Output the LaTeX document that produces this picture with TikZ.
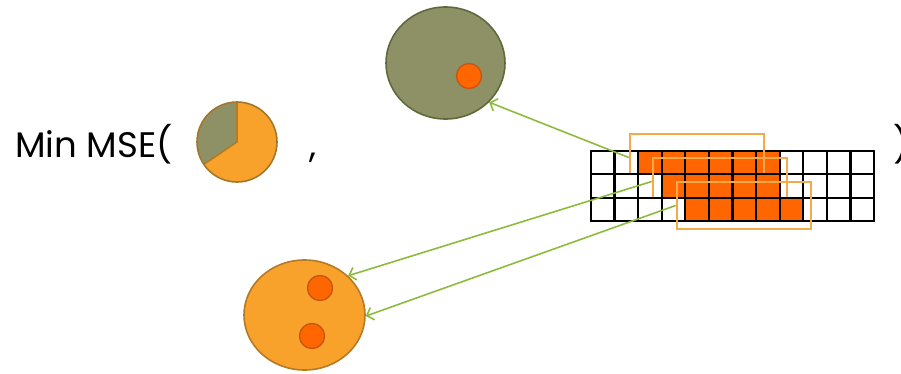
\documentclass[tikz,border=0pt]{standalone}
\usepackage{fontspec}
\setmainfont{Poppins}
\usetikzlibrary{shapes.geometric,arrows.meta}
\definecolor{olivefill}{HTML}{8E9166}
\definecolor{olivedraw}{HTML}{5F6A3C}
\definecolor{pumpkin}{HTML}{F8A22C}
\definecolor{pumpkindraw}{HTML}{B47A24}
\definecolor{hot}{HTML}{FF6600}
\definecolor{hotdraw}{HTML}{C75710}
\definecolor{frame}{HTML}{F4AA4A}
\definecolor{link}{HTML}{8DBB3C}
\tikzset{
  blob/.style={ellipse, inner sep=0pt, line width=1.6pt},
  dot/.style={circle, inner sep=0pt, minimum size=25pt, fill=hot, draw=hotdraw, line width=1.4pt},
  window/.style={rectangle, draw=frame, line width=2.6pt, minimum width=134pt, minimum height=47pt, inner sep=0pt},
  cell/.style={draw=black, line width=2.2pt},
  link/.style={draw=link, line width=1.6pt, -{Straight Barb[length=6pt,width=13pt,line width=1.6pt]}},
  label/.style={font=\fontsize{35.5}{40}\selectfont, inner sep=0pt, anchor=base west}
}
\begin{document}
\begin{tikzpicture}[x=1pt,y=1pt]
\useasboundingbox (0,0) rectangle (901,373);
\clip (0,0) rectangle (901,373);

% formula text
\node[label] (minmse) at (15,216) {Min MSE(};
\node[label] (comma) at (309,216) {,};
\node[label] (close) at (893,216) {)};

% pie glyph
\fill[olivefill] (237,231) -- ++(90:40) arc[start angle=90, end angle=214, radius=40] -- cycle;
\fill[pumpkin] (237,231) -- ++(214:40) arc[start angle=214, end angle=450, radius=40] -- cycle;
\draw[pumpkindraw, line width=1.6pt] (237,231) ++(90:40) -- (237,231) -- ++(214:40);
\draw[pumpkindraw!80!olivedraw, line width=1.6pt] (237,231) circle[radius=40];

% clusters
\node[blob, fill=olivefill, draw=olivedraw, minimum width=119pt, minimum height=112pt] (gc) at (445.5,310) {};
\node[dot] (gd) at (469,297) {};
\node[blob, fill=pumpkin, draw=pumpkindraw, minimum width=121pt, minimum height=110pt] (oc) at (304.5,58) {};
\node[dot] (od1) at (320,85) {};
\node[dot] (od2) at (312,37) {};

% grid rows with sliding windows layered in between
\def\gx{591}\def\gw{23.583}\def\gh{23.33}
% row 0
\foreach \c in {0,...,11}{
  \pgfmathsetmacro{\xa}{\gx+\c*\gw}
  \ifnum\c>1 \ifnum\c<8 \def\cf{hot}\else\def\cf{white}\fi\else\def\cf{white}\fi
  \filldraw[cell, fill=\cf] (\xa,222) rectangle ++(\gw,-\gh);
}
\node[window] (r1) at (697,215.5) {};
% row 1
\foreach \c in {0,...,11}{
  \pgfmathsetmacro{\xa}{\gx+\c*\gw}
  \ifnum\c>2 \ifnum\c<8 \def\cf{hot}\else\def\cf{white}\fi\else\def\cf{white}\fi
  \filldraw[cell, fill=\cf] (\xa,198.67) rectangle ++(\gw,-\gh);
}
\node[window] (r2) at (720,191.5) {};
% row 2
\foreach \c in {0,...,11}{
  \pgfmathsetmacro{\xa}{\gx+\c*\gw}
  \ifnum\c>3 \ifnum\c<9 \def\cf{hot}\else\def\cf{white}\fi\else\def\cf{white}\fi
  \filldraw[cell, fill=\cf] (\xa,175.33) rectangle ++(\gw,-\gh);
}
\node[window] (r3) at (744,167.5) {};

% assignments of windows to clusters
\draw[link] (r1.west) -- (gc.-42);
\draw[link] (r2.west) -- (oc.42);
\draw[link] (r3.west) -- (oc.-1);
\end{tikzpicture}
\end{document}
